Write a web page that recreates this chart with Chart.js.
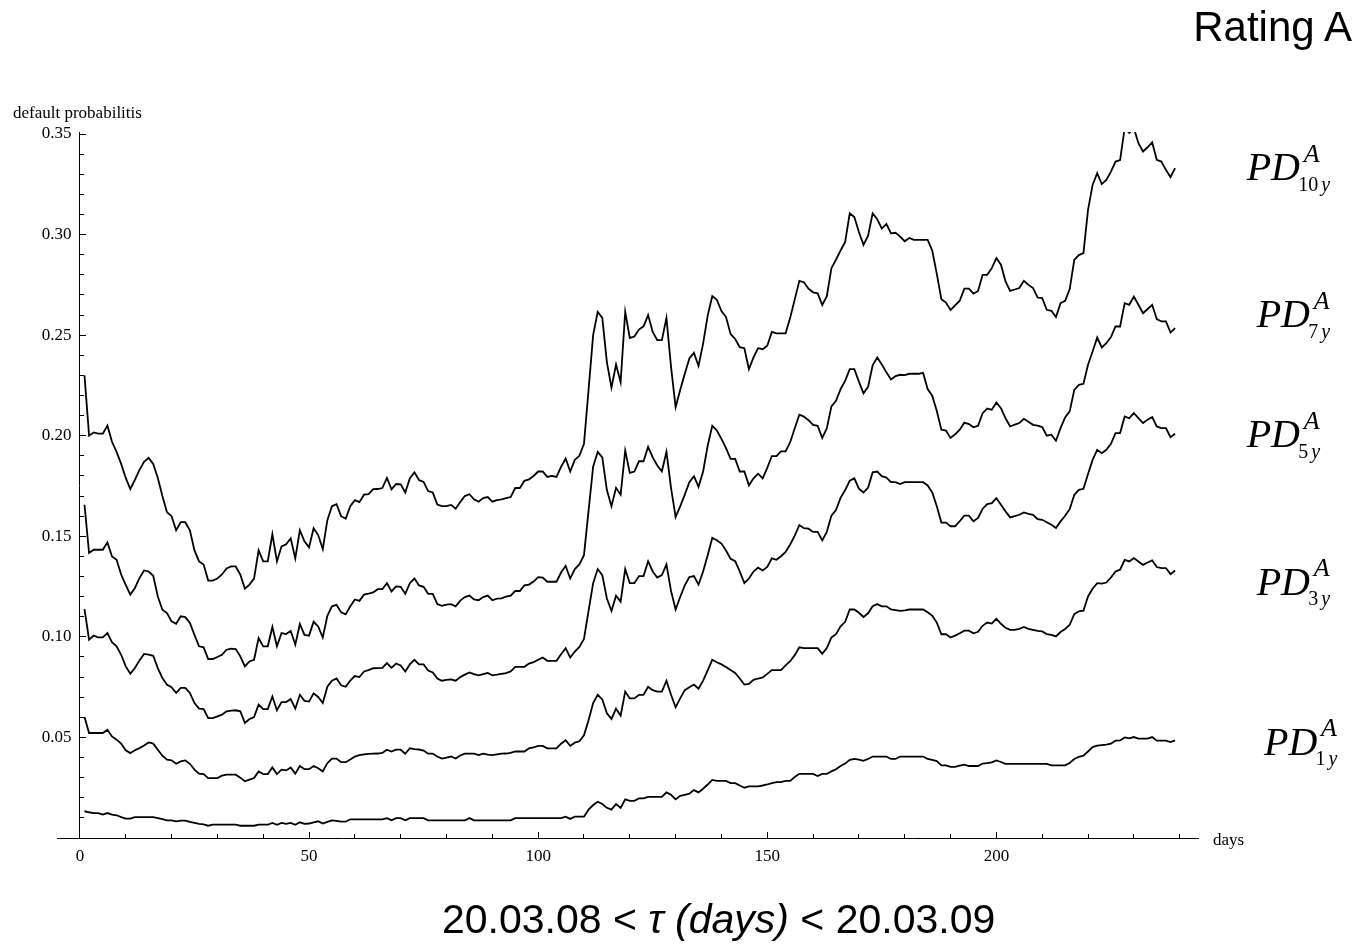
<!DOCTYPE html>
<html>
<head>
<meta charset="utf-8">
<title>Rating A</title>
<script src="https://cdn.jsdelivr.net/npm/chart.js@4.4.1/dist/chart.umd.min.js"></script>
<style>
  html, body { margin: 0; padding: 0; background: #fff; }
  #wrap { position: relative; width: 1355px; height: 944px; overflow: hidden; }
  #chart { position: absolute; left: 0; top: 0; }
  .txt { position: absolute; white-space: nowrap; line-height: 1; color: #000; }
  .serif { font-family: 'Liberation Serif', 'Times New Roman', serif; }
  .sans { font-family: 'Liberation Sans', Arial, Helvetica, sans-serif; }
  .it { font-style: italic; }
</style>
</head>
<body>
<div id="wrap">
  <canvas id="chart" width="1355" height="944"></canvas>
  <div class="txt sans" style="right:3px;top:6px;font-size:42px">Rating A</div>
  <div class="txt serif" style="left:13px;top:104px;font-size:17px">default probabilitis</div>
  <div class="txt serif" style="left:1213px;top:831px;font-size:17px">days</div>
  <div class="txt sans" style="left:442px;top:899px;font-size:41px">20.03.08 &lt; <i>τ (days)</i> &lt; 20.03.09</div>
</div>
<script>
// daily default probabilities, rating A, days 1..239
const pd10y = [
  0.230, 0.200, 0.2016, 0.201, 0.201, 0.205, 0.197, 0.192, 0.186, 0.179,
  0.1735, 0.178, 0.183, 0.187, 0.189, 0.186, 0.179, 0.170, 0.162, 0.160,
  0.153, 0.157, 0.157, 0.153, 0.143, 0.1375, 0.136, 0.128, 0.128, 0.129,
  0.131, 0.134, 0.135, 0.135, 0.131, 0.124, 0.126, 0.129, 0.143, 0.1375,
  0.1375, 0.151, 0.1375, 0.145, 0.146, 0.149, 0.139, 0.153, 0.1475, 0.1445,
  0.154, 0.1506, 0.1436, 0.158, 0.165, 0.166, 0.160, 0.1587, 0.165, 0.168,
  0.167, 0.1707, 0.171, 0.1734, 0.1735, 0.174, 0.179, 0.1734, 0.176, 0.1758,
  0.1718, 0.1788, 0.1818, 0.178, 0.177, 0.1725, 0.1718, 0.1658, 0.165, 0.165,
  0.1656, 0.1637, 0.167, 0.170, 0.1709, 0.1684, 0.1672, 0.169, 0.1695, 0.1672,
  0.168, 0.1684, 0.169, 0.1695, 0.174, 0.174, 0.1776, 0.1783, 0.180, 0.1822,
  0.1822, 0.1795, 0.180, 0.1795, 0.1845, 0.1887, 0.1822, 0.188, 0.190, 0.196,
  0.2227, 0.250, 0.2616, 0.2586, 0.2366, 0.2239, 0.2354, 0.2266, 0.2616, 0.2486,
  0.2493, 0.2528, 0.2544, 0.260, 0.2516, 0.2475, 0.2475, 0.2586, 0.2343, 0.2142,
  0.2227, 0.2308, 0.2384, 0.2412, 0.2347, 0.2458, 0.2597, 0.2694, 0.2676, 0.262,
  0.259, 0.2505, 0.2481, 0.244, 0.2435, 0.2331, 0.2389, 0.2435, 0.243, 0.2447,
  0.2516, 0.2509, 0.2509, 0.2509, 0.2586, 0.2678, 0.277, 0.2763, 0.2731, 0.2713,
  0.2708, 0.265, 0.2694, 0.2833, 0.2875, 0.2921, 0.2963, 0.3106, 0.3087, 0.3013,
  0.2949, 0.2995, 0.3106, 0.3076, 0.303, 0.3053, 0.3006, 0.3009, 0.299, 0.2967,
  0.2983, 0.2974, 0.2974, 0.2974, 0.2974, 0.2921, 0.2805, 0.2678, 0.2662, 0.2625,
  0.2648, 0.2671, 0.2731, 0.2731, 0.2706, 0.272, 0.280, 0.280, 0.2833, 0.2883,
  0.285, 0.2767, 0.272, 0.2727, 0.2734, 0.277, 0.275, 0.2734, 0.2687, 0.2684,
  0.2626, 0.2621, 0.259, 0.2659, 0.2671, 0.2729, 0.2874, 0.2898, 0.2908, 0.3123,
  0.3247, 0.3305, 0.3251, 0.3272, 0.3313, 0.3363, 0.337, 0.353, 0.3505, 0.353,
  0.3454, 0.3413, 0.3434, 0.3459, 0.3372, 0.3363, 0.3322, 0.3285, 0.333
];
const pd7y = [
  0.1657, 0.1417, 0.1433, 0.1433, 0.1433, 0.147, 0.140, 0.1383, 0.131, 0.1259,
  0.121, 0.1243, 0.1292, 0.133, 0.1325, 0.1304, 0.1201, 0.1135, 0.1118, 0.1077,
  0.1065, 0.1102, 0.1098, 0.1069, 0.101, 0.0953, 0.0948, 0.089, 0.089, 0.090,
  0.0911, 0.0936, 0.0941, 0.0939, 0.0903, 0.0853, 0.0878, 0.0886, 0.0994, 0.0953,
  0.0953, 0.1049, 0.0953, 0.1019, 0.1014, 0.103, 0.0961, 0.1064, 0.101, 0.1006,
  0.1075, 0.1052, 0.0997, 0.1105, 0.1152, 0.1159, 0.1122, 0.1112, 0.1152, 0.1186,
  0.1179, 0.121, 0.1215, 0.1221, 0.1237, 0.1237, 0.1267, 0.1226, 0.1251, 0.1249,
  0.1214, 0.1267, 0.129, 0.1256, 0.1249, 0.1214, 0.1214, 0.1163, 0.1154, 0.116,
  0.1163, 0.1152, 0.118, 0.1198, 0.1205, 0.1186, 0.1182, 0.1198, 0.1205, 0.1182,
  0.119, 0.1191, 0.120, 0.1205, 0.1228, 0.1228, 0.1256, 0.126, 0.1275, 0.1297,
  0.1295, 0.1274, 0.1274, 0.1274, 0.132, 0.1353, 0.129, 0.1337, 0.136, 0.1406,
  0.1626, 0.1846, 0.192, 0.1892, 0.173, 0.1649, 0.1741, 0.1707, 0.1926, 0.1815,
  0.1822, 0.1873, 0.1873, 0.1945, 0.1892, 0.1852, 0.1822, 0.192, 0.1741, 0.1596,
  0.1649, 0.1707, 0.1769, 0.1799, 0.1746, 0.1822, 0.195, 0.2049, 0.2026, 0.1984,
  0.1938, 0.1885, 0.1885, 0.1822, 0.1822, 0.1753, 0.1788, 0.1811, 0.1788, 0.184,
  0.1899, 0.1899, 0.1922, 0.1922, 0.1968, 0.2037, 0.2105, 0.2095, 0.2077, 0.2054,
  0.2049, 0.1989, 0.2037, 0.2146, 0.2174, 0.2232, 0.2273, 0.2331, 0.2331, 0.2269,
  0.2211, 0.2243, 0.235, 0.2389, 0.2354, 0.2315, 0.228, 0.2296, 0.2303, 0.2301,
  0.2308, 0.2308, 0.2308, 0.2313, 0.2232, 0.2199, 0.2123, 0.203, 0.2026, 0.1989,
  0.2007, 0.203, 0.2065, 0.2058, 0.2042, 0.2049, 0.2112, 0.2135, 0.2129, 0.2165,
  0.2137, 0.2087, 0.2046, 0.2055, 0.2063, 0.2084, 0.207, 0.2054, 0.205, 0.2043,
  0.200, 0.2005, 0.1975, 0.2038, 0.2091, 0.2121, 0.2228, 0.2253, 0.2258, 0.2353,
  0.2419, 0.2488, 0.2439, 0.246, 0.249, 0.2543, 0.2543, 0.2659, 0.2651, 0.2692,
  0.2651, 0.2609, 0.263, 0.2651, 0.258, 0.2568, 0.2568, 0.2513, 0.2535
];
const pd5y = [
  0.1138, 0.0986, 0.1006, 0.0997, 0.0997, 0.1019, 0.0973, 0.0953, 0.0911, 0.0853,
  0.0817, 0.0845, 0.0883, 0.0915, 0.0912, 0.0906, 0.0845, 0.0795, 0.0762, 0.075,
  0.0721, 0.0746, 0.0746, 0.0721, 0.0671, 0.0643, 0.0641, 0.0596, 0.0596, 0.0605,
  0.0613, 0.063, 0.0633, 0.0635, 0.063, 0.0572, 0.0591, 0.0601, 0.0663, 0.0641,
  0.0641, 0.0704, 0.0635, 0.0676, 0.0676, 0.0691, 0.0643, 0.0712, 0.0682, 0.0678,
  0.0719, 0.0701, 0.0671, 0.0752, 0.0782, 0.0793, 0.0759, 0.0752, 0.0782, 0.0805,
  0.080, 0.0828, 0.0835, 0.0844, 0.0845, 0.0846, 0.087, 0.0846, 0.0867, 0.0858,
  0.0828, 0.0863, 0.0886, 0.0863, 0.0863, 0.0833, 0.0823, 0.0793, 0.0782, 0.0786,
  0.0789, 0.0782, 0.080, 0.0812, 0.0823, 0.0815, 0.0809, 0.0815, 0.0821, 0.0809,
  0.0812, 0.0816, 0.082, 0.0828, 0.0851, 0.0851, 0.0851, 0.0867, 0.0874, 0.0886,
  0.0897, 0.0881, 0.0881, 0.0881, 0.0914, 0.0944, 0.0897, 0.0927, 0.095, 0.099,
  0.1129, 0.1267, 0.1337, 0.1307, 0.1191, 0.1129, 0.1205, 0.1175, 0.1337, 0.1267,
  0.1267, 0.1302, 0.1302, 0.1376, 0.1325, 0.1295, 0.1307, 0.136, 0.1228, 0.1136,
  0.1198, 0.1256, 0.1297, 0.1302, 0.126, 0.1325, 0.1406, 0.1492, 0.148, 0.1464,
  0.1429, 0.1388, 0.1376, 0.1325, 0.1267, 0.129, 0.1325, 0.1344, 0.133, 0.1348,
  0.139, 0.1383, 0.1401, 0.1422, 0.1459, 0.1503, 0.1556, 0.154, 0.1538, 0.1522,
  0.1522, 0.148, 0.1522, 0.1603, 0.163, 0.1691, 0.173, 0.1776, 0.1788, 0.1737,
  0.1718, 0.1741, 0.1818, 0.1822, 0.1799, 0.1792, 0.1769, 0.1769, 0.176, 0.1769,
  0.1769, 0.1769, 0.1769, 0.1769, 0.1753, 0.1718, 0.1649, 0.1568, 0.1568, 0.155,
  0.155, 0.1575, 0.1603, 0.1603, 0.1575, 0.1591, 0.1637, 0.166, 0.1665, 0.169,
  0.1657, 0.1624, 0.1594, 0.160, 0.1607, 0.1619, 0.1612, 0.1607, 0.1585, 0.1582,
  0.157, 0.1557, 0.1541, 0.1574, 0.1602, 0.1635, 0.1706, 0.1731, 0.1736, 0.181,
  0.188, 0.193, 0.1913, 0.193, 0.196, 0.2013, 0.2013, 0.2096, 0.2087, 0.2112,
  0.2087, 0.2063, 0.208, 0.2093, 0.2046, 0.2038, 0.2038, 0.1993, 0.201
];
const pd3y = [
  0.0601, 0.0522, 0.0522, 0.0522, 0.0522, 0.0538, 0.0505, 0.0489, 0.0469, 0.0436,
  0.0422, 0.0436, 0.0447, 0.046, 0.0475, 0.0469, 0.0439, 0.0409, 0.0389, 0.0386,
  0.0369, 0.0381, 0.0386, 0.0369, 0.034, 0.032, 0.0318, 0.0298, 0.0298, 0.0298,
  0.031, 0.0315, 0.0315, 0.0315, 0.030, 0.0282, 0.029, 0.0298, 0.0331, 0.0318,
  0.0318, 0.0351, 0.0318, 0.034, 0.0336, 0.0351, 0.032, 0.0358, 0.0342, 0.0342,
  0.0358, 0.0347, 0.0331, 0.0372, 0.0395, 0.0395, 0.0377, 0.0377, 0.039, 0.0405,
  0.0412, 0.0416, 0.0418, 0.0419, 0.042, 0.0423, 0.0439, 0.043, 0.0439, 0.0439,
  0.0419, 0.0446, 0.0442, 0.044, 0.0435, 0.0419, 0.0419, 0.0405, 0.0395, 0.040,
  0.0405, 0.0395, 0.041, 0.0419, 0.0419, 0.0419, 0.0412, 0.0419, 0.0415, 0.0412,
  0.0416, 0.0419, 0.042, 0.0423, 0.043, 0.043, 0.043, 0.0446, 0.045, 0.0458,
  0.0458, 0.0446, 0.0446, 0.0446, 0.0469, 0.0486, 0.0458, 0.0474, 0.0481, 0.0511,
  0.0585, 0.0671, 0.0712, 0.0689, 0.062, 0.0592, 0.0643, 0.0608, 0.0728, 0.0694,
  0.0694, 0.0712, 0.0712, 0.0752, 0.0735, 0.0728, 0.0728, 0.0782, 0.0712, 0.065,
  0.0694, 0.0735, 0.075, 0.0763, 0.0742, 0.0782, 0.0833, 0.0886, 0.0874, 0.0863,
  0.085, 0.0835, 0.0821, 0.0793, 0.0763, 0.0766, 0.0786, 0.0793, 0.0798, 0.0816,
  0.0835, 0.0835, 0.0835, 0.0858, 0.0879, 0.0909, 0.0948, 0.0944, 0.0944, 0.0944,
  0.0944, 0.0916, 0.0944, 0.0997, 0.1013, 0.1052, 0.1075, 0.1136, 0.1136, 0.112,
  0.1099, 0.1117, 0.1152, 0.1163, 0.1152, 0.1152, 0.1136, 0.1133, 0.1129, 0.1132,
  0.1136, 0.1136, 0.1136, 0.1136, 0.1122, 0.1105, 0.1071, 0.1013, 0.1013, 0.0997,
  0.1006, 0.1018, 0.1031, 0.1031, 0.1018, 0.1025, 0.1055, 0.1071, 0.1066, 0.109,
  0.1065, 0.1045, 0.1035, 0.1035, 0.104, 0.1049, 0.104, 0.1035, 0.103, 0.1027,
  0.1014, 0.101, 0.1002, 0.1024, 0.1039, 0.106, 0.1113, 0.1127, 0.113, 0.1201,
  0.1239, 0.1267, 0.1265, 0.127, 0.1295, 0.1325, 0.1334, 0.1383, 0.1375, 0.1392,
  0.1375, 0.1358, 0.137, 0.138, 0.1347, 0.1342, 0.1342, 0.1312, 0.133
];
const pd1y = [
  0.0133, 0.0128, 0.0124, 0.0124, 0.0116, 0.0124, 0.0116, 0.0113, 0.0104, 0.0096,
  0.0096, 0.0104, 0.0104, 0.0104, 0.0104, 0.0104, 0.0099, 0.0094, 0.0088, 0.0088,
  0.0083, 0.0086, 0.0086, 0.008, 0.0075, 0.007, 0.0068, 0.0061, 0.0066, 0.0066,
  0.0066, 0.0066, 0.0066, 0.0066, 0.0061, 0.0061, 0.0061, 0.0061, 0.0066, 0.0066,
  0.0066, 0.0075, 0.0066, 0.0075, 0.007, 0.0075, 0.0066, 0.0078, 0.007, 0.0072,
  0.0078, 0.0083, 0.0072, 0.008, 0.0088, 0.0085, 0.0081, 0.0081, 0.0093, 0.0093,
  0.0093, 0.0093, 0.0093, 0.0093, 0.0093, 0.0093, 0.0099, 0.0088, 0.0099, 0.0099,
  0.0088, 0.0099, 0.0099, 0.0099, 0.0099, 0.0088, 0.0088, 0.0088, 0.0088, 0.0088,
  0.0088, 0.0088, 0.0088, 0.0088, 0.0099, 0.0088, 0.0088, 0.0088, 0.0088, 0.0088,
  0.0088, 0.0088, 0.0088, 0.0088, 0.0099, 0.0099, 0.0099, 0.0099, 0.0099, 0.0099,
  0.0099, 0.0099, 0.0099, 0.0099, 0.0099, 0.0106, 0.0095, 0.0106, 0.0106, 0.0106,
  0.0141, 0.0164, 0.018, 0.0169, 0.015, 0.0141, 0.0169, 0.015, 0.0192, 0.0185,
  0.0185, 0.0197, 0.0197, 0.0204, 0.0204, 0.0204, 0.0204, 0.0227, 0.0215, 0.0192,
  0.021, 0.0215, 0.022, 0.0238, 0.0227, 0.0245, 0.0266, 0.0289, 0.0284, 0.0284,
  0.0284, 0.0273, 0.0273, 0.0261, 0.025, 0.0257, 0.0257, 0.0257, 0.0261, 0.0266,
  0.0273, 0.0278, 0.0278, 0.0284, 0.0284, 0.0303, 0.0319, 0.0319, 0.0319, 0.0319,
  0.0308, 0.0319, 0.0319, 0.0331, 0.0342, 0.0358, 0.037, 0.0389, 0.0393, 0.039,
  0.0384, 0.0393, 0.0405, 0.0405, 0.0405, 0.0405, 0.0393, 0.0393, 0.0405, 0.0405,
  0.0405, 0.0405, 0.0405, 0.0405, 0.0393, 0.0388, 0.0382, 0.0361, 0.0361, 0.0354,
  0.0354, 0.036, 0.0365, 0.0358, 0.0358, 0.0358, 0.037, 0.0372, 0.0376, 0.0386,
  0.0378, 0.0369, 0.0369, 0.0369, 0.0369, 0.0369, 0.0369, 0.0369, 0.0369, 0.0369,
  0.0369, 0.0361, 0.0361, 0.0361, 0.0361, 0.0373, 0.0393, 0.0403, 0.0409, 0.043,
  0.0452, 0.0459, 0.0462, 0.0464, 0.0469, 0.0484, 0.0485, 0.050, 0.0495, 0.0502,
  0.0494, 0.0494, 0.0494, 0.0502, 0.0484, 0.0484, 0.0484, 0.0477, 0.0485
];

const seriesNames = ['10', '7', '5', '3', '1'];
const seriesValues = [pd10y, pd7y, pd5y, pd3y, pd1y];

// tick positions (Mathematica style: labelled majors, short minors)
const xMajorTicks = [0, 50, 100, 150, 200];
const xMinorTicks = [0, 10, 20, 30, 40, 50, 60, 70, 80, 90, 100, 110, 120,
  130, 140, 150, 160, 170, 180, 190, 200, 210, 220, 230, 240];
const yMajorTicks = [0.05, 0.10, 0.15, 0.20, 0.25, 0.30, 0.35];
const yMinorTicks = [0.01, 0.02, 0.03, 0.04, 0.05, 0.06, 0.07, 0.08, 0.09, 0.10,
  0.11, 0.12, 0.13, 0.14, 0.15, 0.16, 0.17, 0.18, 0.19, 0.20, 0.21, 0.22, 0.23,
  0.24, 0.25, 0.26, 0.27, 0.28, 0.29, 0.30, 0.31, 0.32, 0.33, 0.34, 0.35];

const serifFont = "'Liberation Serif', 'Times New Roman', serif";

// PD^A_{n y} labels at the right end of each curve
const labelSpots = [
  { x: 1246.7, base: 180.7 },
  { x: 1256.7, base: 327.3 },
  { x: 1246.7, base: 447.3 },
  { x: 1256.7, base: 595 },
  { x: 1264, base: 755 }
];

const wrap = document.getElementById('wrap');
function addText(html, cls, left, top, size) {
  const el = document.createElement('div');
  el.className = 'txt ' + cls;
  el.style.left = left + 'px';
  el.style.top = top + 'px';
  el.style.fontSize = size + 'px';
  el.innerHTML = html;
  wrap.appendChild(el);
}
seriesNames.forEach((n, i) => {
  const s = labelSpots[i];
  addText('PD', 'serif it', s.x, s.base - 0.8375 * 40, 40);
  addText('A', 'serif it', s.x + 57, s.base - 18 - 0.8375 * 26, 26);
  addText(n + '<i style="margin-left:3px">y</i>', 'serif', s.x + 51.5, s.base + 10 - 0.8375 * 20, 20);
});

const useTicks = values => scale => {
  scale.ticks = values.map(v => ({ value: v }));
};

const minorTickScale = (axis, values, pos) => ({
  type: 'linear',
  axis: axis,
  min: axis === 'x' ? -5 : 0,
  max: axis === 'x' ? 244 : 0.351,
  position: pos,
  afterBuildTicks: useTicks(values),
  ticks: { display: false },
  grid: { drawOnChartArea: false, drawTicks: true, tickLength: -4, tickColor: '#000', tickWidth: 1 },
  border: { display: false }
});

const ctx = document.getElementById('chart').getContext('2d');
new Chart(ctx, {
  type: 'line',
  data: {
    datasets: seriesValues.map((vals, i) => ({
      label: 'PD ' + seriesNames[i] + 'y',
      data: vals.map((v, d) => ({ x: d + 1, y: v })),
      borderColor: '#000',
      borderWidth: 1.8,
      pointRadius: 0,
      tension: 0,
      fill: false,
      clip: 0
    }))
  },
  options: {
    responsive: false,
    animation: false,
    layout: { padding: { left: 57, right: 157, top: 132, bottom: 106 } },
    plugins: {
      legend: { display: false },
      tooltip: { enabled: false },
      title: { display: false }
    },
    scales: {
      x: {
        type: 'linear',
        min: -5,
        max: 244,
        position: { y: 0 },
        afterBuildTicks: useTicks(xMajorTicks),
        ticks: {
          padding: 15,
          color: '#000',
          font: { family: serifFont, size: 17 },
          maxRotation: 0,
          autoSkip: false
        },
        grid: { drawOnChartArea: false, drawTicks: true, tickLength: -7, tickColor: '#000', tickWidth: 1 },
        border: { display: true, color: '#000', width: 1 }
      },
      y: {
        type: 'linear',
        min: 0,
        max: 0.351,
        position: { x: 0 },
        afterBuildTicks: useTicks(yMajorTicks),
        ticks: {
          padding: 16,
          color: '#000',
          autoSkip: false,
          font: { family: serifFont, size: 17 },
          // labels sit right against the axis when it is placed by value, so pad them
          callback: v => v.toFixed(2) + '  '
        },
        grid: { drawOnChartArea: false, drawTicks: true, tickLength: -7, tickColor: '#000', tickWidth: 1 },
        border: { display: true, color: '#000', width: 1 }
      },
      xm: minorTickScale('x', xMinorTicks, { y: 0 }),
      ym: minorTickScale('y', yMinorTicks, { x: 0 })
    }
  }
});
</script>
</body>
</html>
